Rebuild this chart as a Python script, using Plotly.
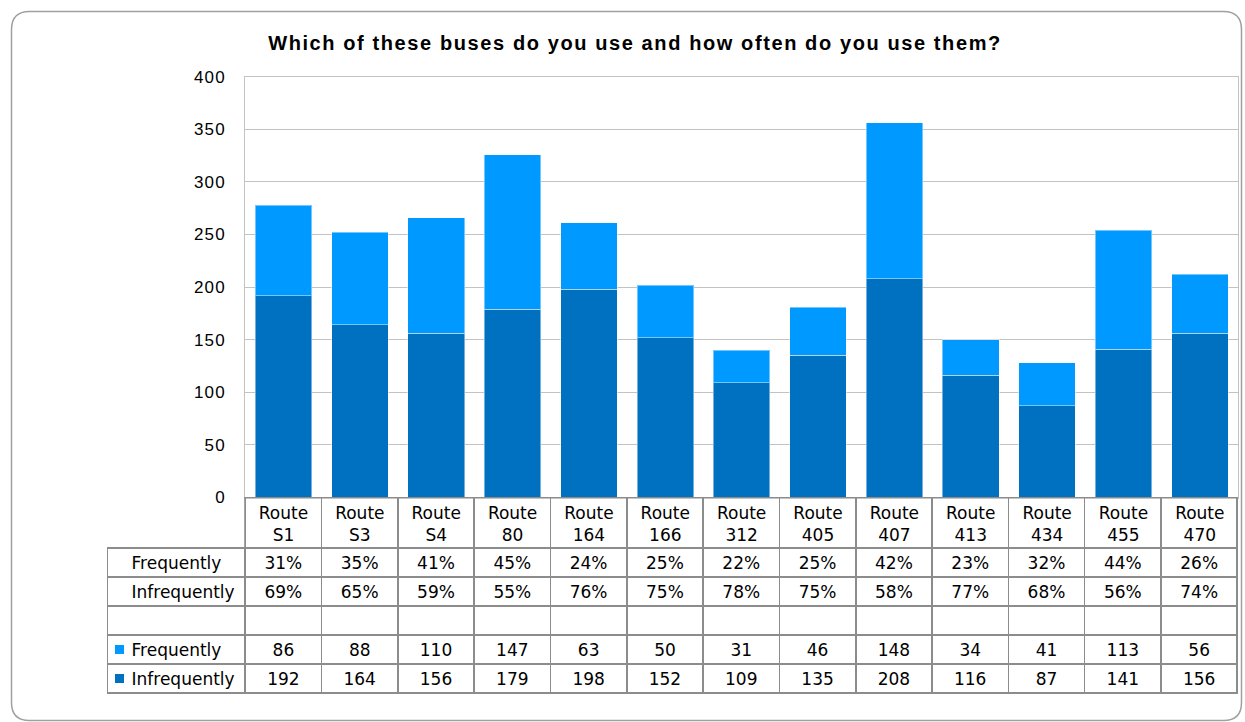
import plotly.graph_objects as go

# ---------------- data ----------------
categories = ["Route S1", "Route S3", "Route S4", "Route 80", "Route 164", "Route 166",
              "Route 312", "Route 405", "Route 407", "Route 413", "Route 434", "Route 455", "Route 470"]
frequently = [86, 88, 110, 147, 63, 50, 31, 46, 148, 34, 41, 113, 56]
infrequently = [192, 164, 156, 179, 198, 152, 109, 135, 208, 116, 87, 141, 156]
pct_frequently = ["31%", "35%", "41%", "45%", "24%", "25%", "22%", "25%", "42%", "23%", "32%", "44%", "26%"]
pct_infrequently = ["69%", "65%", "59%", "55%", "76%", "75%", "78%", "75%", "58%", "77%", "68%", "56%", "74%"]
series_names = ["Frequently", "Infrequently"]
y_tick_values = [0, 50, 100, 150, 200, 250, 300, 350, 400]
y_tick_labels = ["0", "50", "100", "150", "200", "250", "300", "350", "400"]
title_text = "Which of these buses do you use and how often do you use them?"

# ---------------- styling ----------------
W, H = 1245, 722
LIGHT = "#0099FF"
DARK = "#0070C0"
FONT = "Liberation Sans"
TFONT = "DejaVu Sans"
GRID = "#c3c3c3"
TBL = "#8c8c8c"
NB = "\u00a0"


def X(px):
    return px / W


def Y(py):
    return 1 - py / H


def ls(t, s=1.5):
    return f"<span style='letter-spacing:{s}px'>{t}</span>"


fig = go.Figure()

fig.add_bar(x=categories, y=infrequently, name=series_names[1], marker_color=DARK,
            marker_line=dict(color="rgba(255,255,255,0.45)", width=1), showlegend=False,
            hoverinfo="x+y")
fig.add_bar(x=categories, y=frequently, name=series_names[0], marker_color=LIGHT,
            marker_line=dict(color="rgba(255,255,255,0.45)", width=1), showlegend=False,
            hoverinfo="x+y")

# ---------------- data table ----------------
ncol = len(categories)
header_vals = [""] * (ncol + 1)   # category names are drawn by the x axis inside these cells
label_col = [NB * 3 + series_names[0], NB * 3 + series_names[1], "",
             NB * 3 + series_names[0], NB * 3 + series_names[1]]
cols = [label_col]
for i in range(ncol):
    cols.append([pct_frequently[i], pct_infrequently[i], "",
                 str(frequently[i]), str(infrequently[i])])

fig.add_trace(go.Table(
    domain=dict(x=[X(107.3), X(1238)], y=[Y(696), Y(497.5)]),
    columnwidth=[138.0] + [76.36] * ncol,
    header=dict(values=header_vals, height=50.5, align="center",
                fill=dict(color="rgba(0,0,0,0)"),
                line=dict(color=["rgba(0,0,0,0)"] + [TBL] * ncol, width=1.6),
                font=dict(family=TFONT, size=17, color="black")),
    cells=dict(values=cols, height=29, align=["left"] + ["center"] * ncol,
               fill=dict(color="rgba(0,0,0,0)"),
               line=dict(color=TBL, width=1.6),
               font=dict(family=TFONT, size=17, color="black")),
))

# legend keys inside the table
fig.add_scatter(x=[0, 0], y=series_names, mode="markers",
                marker=dict(symbol="square", size=9, color=[LIGHT, DARK]),
                xaxis="x2", yaxis="y2", showlegend=False, hoverinfo="skip")


def rounded_rect(x0, y0, x1, y1, r):
    return (f"M {X(x0 + r)},{Y(y0)} L {X(x1 - r)},{Y(y0)} Q {X(x1)},{Y(y0)} {X(x1)},{Y(y0 + r)} "
            f"L {X(x1)},{Y(y1 - r)} Q {X(x1)},{Y(y1)} {X(x1 - r)},{Y(y1)} "
            f"L {X(x0 + r)},{Y(y1)} Q {X(x0)},{Y(y1)} {X(x0)},{Y(y1 - r)} "
            f"L {X(x0)},{Y(y0 + r)} Q {X(x0)},{Y(y0)} {X(x0 + r)},{Y(y0)} Z")


fig.update_layout(
    width=W, height=H, autosize=False,
    margin=dict(l=0, r=0, t=0, b=0, pad=0, autoexpand=False),
    showlegend=False,
    paper_bgcolor="white", plot_bgcolor="white",
    barmode="stack", bargap=0.259,
    font=dict(family=FONT, size=17, color="black"),
    title=dict(text=ls(title_text, 1.6), x=X(635), xanchor="center", xref="paper",
               y=Y(43), yref="container", yanchor="middle",
               font=dict(family=FONT, size=20, color="black", weight="bold")),
    xaxis=dict(domain=[X(245.3), X(1238)], tickmode="array", tickvals=categories,
               ticktext=[c.replace(" ", "<br>") for c in categories], ticks="",
               ticklabelstandoff=0,
               tickfont=dict(family=TFONT, size=17, color="black"),
               showline=True, linecolor=GRID, linewidth=1, mirror=True,
               showgrid=False, zeroline=False, fixedrange=True),
    yaxis=dict(domain=[Y(497.5), Y(76.7)], range=[0, 400], tickmode="array",
               tickvals=y_tick_values, ticktext=[ls(t, 1.2) for t in y_tick_labels],
               showgrid=True, gridcolor=GRID, gridwidth=1,
               showline=True, linecolor=GRID, linewidth=1, mirror=True,
               zeroline=False, ticks="", ticklabelstandoff=15,
               tickfont=dict(family=FONT, size=17, color="black"), fixedrange=True),
    xaxis2=dict(domain=[X(113), X(126)], range=[-1, 1], anchor="y2", visible=False,
                fixedrange=True),
    yaxis2=dict(domain=[Y(693), Y(635)], type="category", range=[1.5, -0.5],
                anchor="x2", visible=False, fixedrange=True),
    shapes=[dict(type="path", xref="paper", yref="paper",
                 path=rounded_rect(11.5, 11.5, 1241.5, 720.5, 18),
                 line=dict(color="#a0a0a0", width=1.5), layer="below")],
)

fig.write_html("out.html")
